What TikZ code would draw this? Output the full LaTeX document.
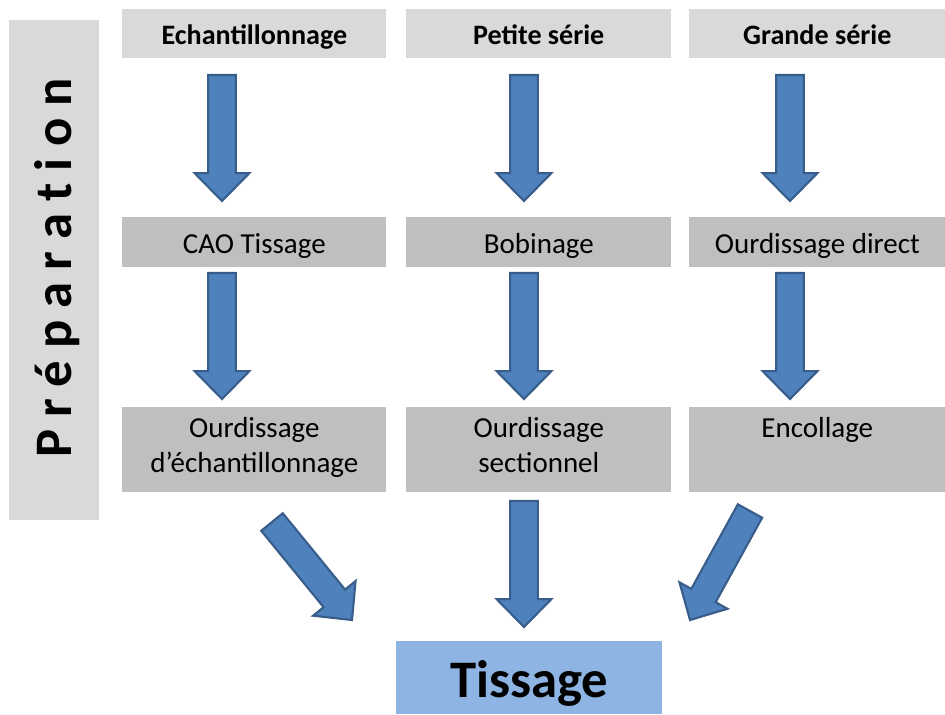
\documentclass[tikz,border=0pt]{standalone}
\usepackage{fontspec}
\setmainfont{Carlito}
\usepackage{tikz}
\usetikzlibrary{calc}
\definecolor{mlight}{RGB}{217,217,217}
\definecolor{mgray}{RGB}{191,191,191}
\definecolor{mblue}{RGB}{79,129,189}
\definecolor{mdark}{RGB}{56,93,138}
\definecolor{msky}{RGB}{141,180,226}
\newcommand{\mstrut}{\rule[-6pt]{0pt}{24.6pt}}

\tikzset{
  headbox/.style={fill=mlight, inner sep=0pt, anchor=north west, minimum height=0.98cm,
    font=\bfseries\fontsize{16}{20}\selectfont, execute at begin node=\mstrut},
  stepbox/.style={fill=mgray, inner sep=0pt, anchor=north west, align=center,
    font=\fontsize{16.5}{20}\selectfont, execute at begin node=\mstrut, execute at end node=\strut},
  blockarrow/.style={fill=mblue, draw=mdark, line width=1.2pt, line join=miter}
}

% block arrow from #1 to #2
\newcommand{\bigarrow}[2]{%
  \coordinate (hb) at ($(#2)!15.9pt!(#1)$);
  \filldraw[blockarrow] ($(#1)!7.9pt!90:(#2)$) -- ($(hb)!7.9pt!90:(#2)$)
    -- ($(hb)!15.6pt!90:(#2)$) -- (#2) -- ($(hb)!15.6pt!-90:(#2)$)
    -- ($(hb)!7.9pt!-90:(#2)$) -- ($(#1)!7.9pt!-90:(#2)$) -- cycle;}

\begin{document}
\begin{tikzpicture}[x=0.02cm, y=-0.02cm]
  \useasboundingbox (0,0) rectangle (945,714);

  \fill [mlight] (9,20) rectangle (99,520);
  \node [rotate=90, font=\bfseries\fontsize{30}{36}\selectfont] (prep) at (57,268) {P r é p a r a t i o n};

  \node [headbox, minimum width=5.28cm] (ech) at (122,9) {Echantillonnage};
  \node [headbox, minimum width=5.3cm] (petite) at (406,9) {Petite série};
  \node [headbox, minimum width=5.12cm] (grande) at (689,9) {Grande série};

  \node [stepbox, minimum width=5.28cm, minimum height=1cm] (cao) at (122,217) {CAO Tissage};
  \node [stepbox, minimum width=5.3cm, minimum height=1cm] (bob) at (406,217) {Bobinage};
  \node [stepbox, minimum width=5.12cm, minimum height=1cm] (direct) at (689,217) {Ourdissage direct};

  \node [stepbox, minimum width=5.28cm, minimum height=1.7cm] (ourech) at (122,407) {Ourdissage\\d’échantillonnage};
  \node [stepbox, minimum width=5.3cm, minimum height=1.7cm] (oursec) at (406,407) {Ourdissage\\sectionnel};
  \node [stepbox, minimum width=5.12cm, minimum height=1.7cm] (encol) at (689,407) {Encollage\\};

  \node [fill=msky, inner sep=0pt, anchor=north west, minimum width=5.32cm, minimum height=1.46cm,
    text height=23pt, text depth=1pt,
    font=\bfseries\fontsize{30}{36}\selectfont] (tiss) at (396,641) {Tissage};

  \foreach \c/\x in {a/222, b/524, c/790} {
    \coordinate (\c1) at (\x,75);
    \coordinate (\c2) at (\x,201);
    \coordinate (\c3) at (\x,273);
    \coordinate (\c4) at (\x,399);
    \bigarrow{\c1}{\c2}
    \bigarrow{\c3}{\c4}
  }

  \coordinate (d1) at (272,522);
  \coordinate (d2) at (352,620);
  \coordinate (m1) at (524,501);
  \coordinate (m2) at (524,627);
  \coordinate (r1) at (750,511);
  \coordinate (r2) at (690,620);
  \bigarrow{d1}{d2}
  \bigarrow{m1}{m2}
  \bigarrow{r1}{r2}
\end{tikzpicture}
\end{document}
